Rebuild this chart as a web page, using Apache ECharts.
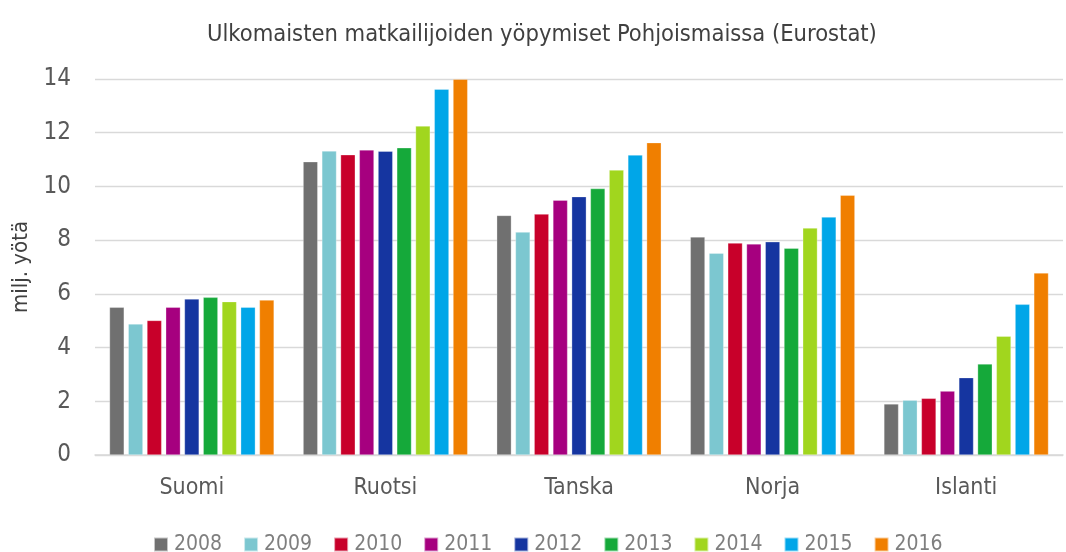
<!DOCTYPE html>
<html>
<head>
<meta charset="utf-8">
<script src="https://cdn.jsdelivr.net/npm/echarts@6/dist/echarts.min.js"></script>
<style>
  html, body { margin: 0; padding: 0; background: #fff; }
  #chart { width: 1066px; height: 552px; }
</style>
</head>
<body>
<div id="chart"></div>
<script>
const categories = ['Suomi', 'Ruotsi', 'Tanska', 'Norja', 'Islanti']
const years = ['2008', '2009', '2010', '2011', '2012', '2013', '2014', '2015', '2016']

// milj. yötä, one array per year (Suomi, Ruotsi, Tanska, Norja, Islanti)
const v2008 = [5.50, 10.92, 8.92, 8.12, 1.90]
const v2009 = [4.88, 11.32, 8.30, 7.51, 2.04]
const v2010 = [5.01, 11.18, 8.97, 7.89, 2.11]
const v2011 = [5.50, 11.36, 9.49, 7.86, 2.38]
const v2012 = [5.81, 11.31, 9.62, 7.94, 2.88]
const v2013 = [5.87, 11.44, 9.92, 7.70, 3.39]
const v2014 = [5.71, 12.25, 10.61, 8.45, 4.42]
const v2015 = [5.50, 13.62, 11.17, 8.86, 5.61]
const v2016 = [5.77, 13.99, 11.63, 9.67, 6.78]

const yTicks = [0, 2, 4, 6, 8, 10, 12, 14]

const values = [v2008, v2009, v2010, v2011, v2012, v2013, v2014, v2015, v2016]
const colors = ['#707070', '#7cc7d0', '#c8002a', '#a6007f', '#1535a0', '#15a93a', '#a1d61e', '#00a6e8', '#f07f00']

const font = '"Liberation Sans Narrow", "Arial Narrow", "DejaVu Sans Condensed", sans-serif'

const chart = echarts.init(document.getElementById('chart'))
chart.setOption({
  animation: false,
  textStyle: { fontFamily: font },
  title: {
    text: 'Ulkomaisten matkailijoiden yöpymiset Pohjoismaissa (Eurostat)',
    left: 202,
    top: 18,
    textStyle: { fontFamily: font, fontSize: 23.5, fontWeight: 'normal', color: '#404040' }
  },
  legend: {
    bottom: -8,
    left: 148,
    itemWidth: 14,
    itemHeight: 14,
    itemGap: 21,
    icon: 'rect',
    textStyle: { fontFamily: font, fontSize: 21, color: '#7f7f7f', padding: [0, 0, 0, 1] },
    data: years
  },
  grid: { left: 95, right: 3, top: 79, bottom: 97 },
  xAxis: {
    type: 'category',
    data: categories,
    axisTick: { show: false },
    axisLine: { lineStyle: { color: '#d9d9d9', width: 1.5 } },
    axisLabel: { fontFamily: font, fontSize: 23, color: '#595959', margin: 22 }
  },
  yAxis: {
    type: 'value',
    min: yTicks[0],
    max: yTicks[yTicks.length - 1],
    interval: 2,
    name: 'milj. yötä',
    nameLocation: 'middle',
    nameGap: 51,
    nameTextStyle: { fontFamily: font, fontSize: 22, color: '#404040' },
    axisLabel: { fontFamily: font, fontSize: 24, color: '#595959', margin: 24 },
    splitLine: { lineStyle: { color: '#d9d9d9', width: 1.3 } }
  },
  series: years.map((y, i) => ({
    name: y,
    type: 'bar',
    data: values[i],
    barGap: '28%',
    barCategoryGap: '15%',
    itemStyle: { color: colors[i], borderColor: 'rgba(255,255,255,0.6)', borderWidth: 0.5 }
  }))
})
</script>
</body>
</html>
